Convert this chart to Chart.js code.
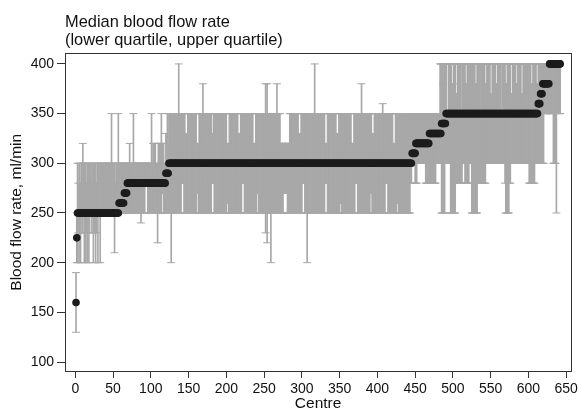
<!DOCTYPE html>
<html>
<head>
<meta charset="utf-8">
<script src="https://cdn.jsdelivr.net/npm/chart.js@4"></script>
<style>
  html, body { margin: 0; padding: 0; background: #fff; }
  #wrap { width: 581px; height: 408px; }
</style>
</head>
<body>
<div id="wrap"><canvas id="flowChart"></canvas></div>
<script>
// each entry: [first centre, last centre, value] in ml/min
const medianRuns = [
  [1,1,160],[2,2,225],[3,57,250],[58,64,260],[65,68,270],[69,119,280],[120,123,290],
  [124,445,300],[446,450,310],[451,468,320],[469,484,330],[485,490,340],[491,612,350],
  [613,615,360],[616,618,370],[619,627,380],[628,642,400]
];

const lowerRuns = [
  [1,1,130],[2,3,200],[4,4,230],[5,5,200],[6,6,230],[7,7,200],[8,8,250],[9,10,230],
  [11,11,250],[12,12,200],[13,13,250],[14,14,200],[15,15,230],[16,16,200],[17,17,250],
  [18,18,200],[19,19,230],[20,21,250],[22,22,230],[23,23,250],[24,24,200],[25,25,230],
  [26,26,250],[27,27,200],[28,28,230],[29,29,250],[30,30,200],[31,32,250],[33,33,200],
  [34,51,250],[52,52,210],[53,86,250],[87,87,240],[88,92,250],[93,95,280],[96,108,250],
  [109,109,220],[110,114,250],[115,116,270],[117,126,250],[127,127,200],[128,140,250],
  [141,143,280],[144,160,250],[161,162,270],[163,180,250],[181,183,280],[184,200,250],
  [201,202,260],[203,220,250],[221,223,280],[224,240,250],[241,242,270],[243,251,250],
  [252,252,230],[253,253,250],[254,254,220],[255,258,250],[259,259,200],[260,275,250],
  [276,280,270],[281,300,250],[301,303,280],[304,306,250],[307,307,200],[308,330,250],
  [331,333,280],[334,350,250],[351,352,260],[353,370,250],[371,373,280],[374,390,250],
  [391,392,270],[393,410,250],[411,413,280],[414,425,250],[426,427,260],[428,443,250],
  [444,445,280],[446,449,300],[450,452,280],[453,463,300],[464,477,280],[478,484,300],
  [485,489,250],[490,496,300],[497,503,250],[504,512,280],[513,515,300],[516,521,280],
  [522,524,300],[525,532,250],[533,543,280],[544,568,300],[569,569,280],[570,574,250],
  [575,576,280],[577,600,300],[601,608,280],[609,620,300],[621,632,350],[633,636,300],
  [637,637,250],[638,642,350]
];

const upperRuns = [
  [1,1,190],[2,2,250],[3,3,300],[4,4,280],[5,6,300],[7,7,280],[8,9,300],[10,10,320],
  [11,14,300],[15,15,280],[16,20,300],[21,21,280],[22,27,300],[28,28,280],[29,33,300],
  [34,34,280],[35,47,300],[48,48,350],[49,52,300],[53,53,280],[54,56,300],[57,57,350],
  [58,71,300],[72,72,320],[73,76,300],[77,77,350],[78,100,300],[101,101,350],[102,102,300],
  [103,106,320],[107,109,300],[110,113,320],[114,114,350],[115,117,320],[118,119,300],
  [120,121,330],[122,122,350],[123,123,320],[124,136,350],[137,137,400],[138,145,350],
  [146,148,330],[149,160,350],[161,163,320],[164,168,350],[169,169,380],[170,180,350],
  [181,182,330],[183,200,350],[201,203,320],[204,215,350],[216,218,330],[219,235,350],
  [236,238,320],[239,251,350],[252,252,380],[253,253,350],[254,254,380],[255,266,350],
  [267,267,380],[268,271,350],[272,283,320],[284,295,350],[296,298,330],[299,316,350],
  [317,317,400],[318,330,350],[331,333,320],[334,345,350],[346,348,330],[349,365,350],
  [366,368,320],[369,378,350],[379,379,380],[380,392,350],[393,395,330],[396,406,350],
  [407,407,360],[408,420,350],[421,423,320],[424,482,350],
  [483,486,400],[487,487,380],[488,491,400],[492,493,350],[494,498,400],[499,500,380],
  [501,503,400],[504,505,370],[506,510,400],[511,511,350],[512,516,400],[517,518,380],
  [519,523,400],[524,524,370],[525,529,400],[530,531,380],[532,536,400],[537,537,350],
  [538,542,400],[543,544,380],[545,549,400],[550,551,370],[552,556,400],[557,558,380],
  [559,563,400],[564,564,350],[565,569,400],[570,571,380],[572,576,400],[577,578,370],
  [579,583,400],[584,585,380],[586,590,400],[591,592,370],[593,597,400],[598,598,350],
  [599,603,400],[604,605,380],[606,610,400],[611,612,380],[613,642,400]
];

const xTicks = [0, 50, 100, 150, 200, 250, 300, 350, 400, 450, 500, 550, 600, 650];
const yTicks = [100, 150, 200, 250, 300, 350, 400];

function expand(runs) {
  const out = [];
  runs.forEach(([from, to, v]) => {
    for (let c = from; c <= to; c++) out.push({ x: c, y: v });
  });
  return out;
}

const medians = expand(medianRuns);
const lowers = expand(lowerRuns);
const uppers = expand(upperRuns);
const iqr = lowers.map((p, i) => ({ x: p.x, y: [p.y, uppers[i].y] }));

const font = 'Liberation Sans, Arial, Helvetica, sans-serif';
const grey = '#a8a8a8';
const axisColor = '#333';
const xRange = { min: -13.6, max: 656.6 };
const yRange = { min: 91, max: 410.4 };

// plain axes on top and right just to close the frame
const frameAxis = (pos, range) => ({
  type: 'linear',
  position: pos,
  min: range.min,
  max: range.max,
  offset: false,
  ticks: { display: false },
  grid: { display: false, drawTicks: false },
  border: { display: true, color: axisColor, width: 1 }
});

new Chart(document.getElementById('flowChart'), {
  type: 'bar',
  data: {
    datasets: [
      {
        type: 'scatter',
        label: 'Median',
        data: medians,
        backgroundColor: '#1c1c1c',
        borderColor: '#1c1c1c',
        pointRadius: 3.8,
        borderWidth: 0,
        order: 0
      },
      {
        type: 'scatter',
        label: 'Lower quartile',
        data: lowers,
        pointStyle: 'line',
        pointRadius: 4,
        borderColor: grey,
        borderWidth: 1,
        order: 1
      },
      {
        type: 'scatter',
        label: 'Upper quartile',
        data: uppers,
        pointStyle: 'line',
        pointRadius: 4,
        borderColor: grey,
        borderWidth: 1,
        order: 1
      },
      {
        type: 'bar',
        label: 'IQR',
        data: iqr,
        backgroundColor: grey,
        borderWidth: 0,
        barThickness: 1,
        grouped: false,
        order: 2
      }
    ]
  },
  options: {
    responsive: true,
    maintainAspectRatio: false,
    animation: false,
    events: [],
    layout: { padding: { top: 13, right: 8, left: 0, bottom: 0 } },
    plugins: {
      legend: { display: false },
      tooltip: { enabled: false },
      title: {
        display: true,
        text: ['Median blood flow rate', '(lower quartile, upper quartile)'],
        align: 'start',
        fullSize: false,
        color: '#111',
        font: { family: font, size: 16.4, weight: 'normal', lineHeight: 1.115 },
        padding: { top: 0, bottom: 4 }
      }
    },
    scales: {
      x: {
        type: 'linear',
        min: xRange.min,
        max: xRange.max,
        offset: false,
        afterFit: s => { s.height = 37; },
        afterBuildTicks: s => { s.ticks = xTicks.map(v => ({ value: v })); },
        ticks: { color: '#111', font: { family: font, size: 14 }, padding: 3, maxRotation: 0, autoSkip: false },
        grid: { drawOnChartArea: false, offset: false, tickLength: 7, color: axisColor },
        border: { display: true, color: axisColor, width: 1 },
        title: { display: true, text: 'Centre', color: '#111', font: { family: font, size: 15.5, lineHeight: 1.2 }, padding: { top: 0, bottom: -5 } }
      },
      y: {
        type: 'linear',
        min: yRange.min,
        max: yRange.max,
        afterFit: s => { s.width = 65; },
        afterBuildTicks: s => { s.ticks = yTicks.map(v => ({ value: v })); },
        ticks: { color: '#111', font: { family: font, size: 14 }, padding: 3 },
        grid: { drawOnChartArea: false, tickLength: 8, color: axisColor },
        border: { display: true, color: axisColor, width: 1 },
        title: { display: true, text: 'Blood flow rate, ml/min', color: '#111', font: { family: font, size: 15.5, lineHeight: 1.2 }, padding: { top: 7, bottom: 0 } }
      },
      xTop: frameAxis('top', xRange),
      yRight: frameAxis('right', yRange)
    }
  }
});
</script>
</body>
</html>
